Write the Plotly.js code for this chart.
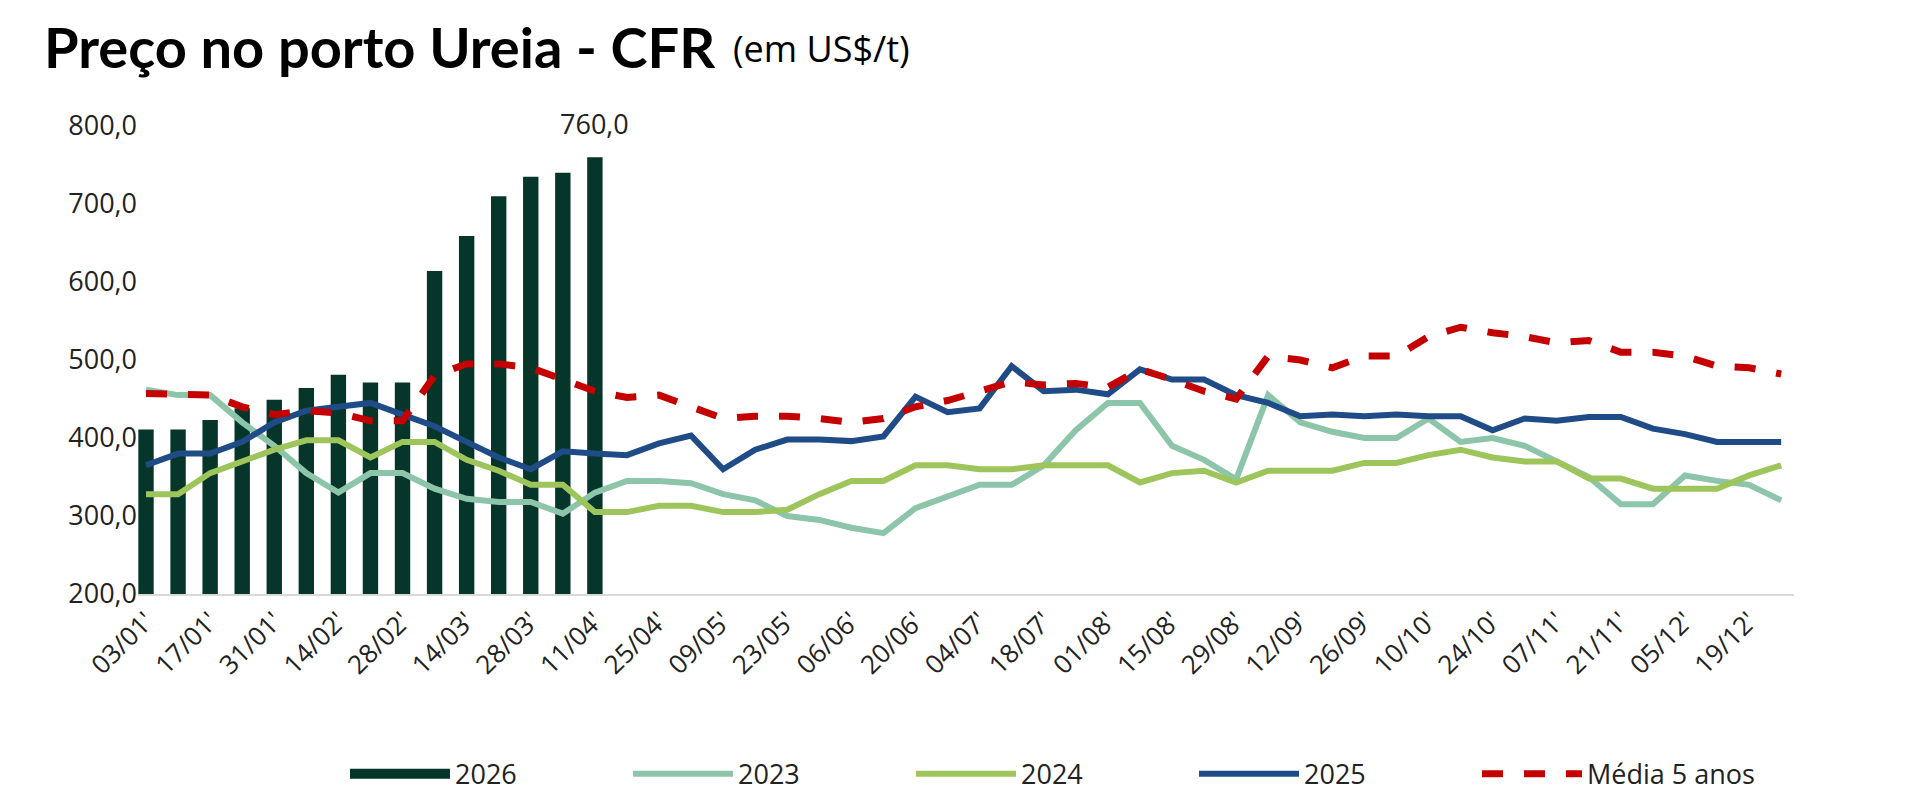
<!DOCTYPE html>
<html>
<head>
<meta charset="utf-8">
<script src="https://cdn.plot.ly/plotly-3.0.1.min.js"></script>
<style>body{margin:0;background:#fff}#chart_area{width:1920px;height:811px}</style>
</head>
<body>
<div id="chart_area"></div>
<script>
var weeks = ["03/01'","10/01'","17/01'","24/01'","31/01'","07/02'","14/02'","21/02'","28/02'","07/03'","14/03'","21/03'","28/03'","04/04'","11/04'","18/04'","25/04'","02/05'","09/05'","16/05'","23/05'","30/05'","06/06'","13/06'","20/06'","27/06'","04/07'","11/07'","18/07'","25/07'","01/08'","08/08'","15/08'","22/08'","29/08'","05/09'","12/09'","19/09'","26/09'","03/10'","10/10'","17/10'","24/10'","31/10'","07/11'","14/11'","21/11'","28/11'","05/12'","12/12'","19/12'","26/12'"];
var y2026 = [411,411,423,438,449,464,481,471,471,614,659,710,735,740,760];
var y2023 = [462,455,455,420,390,355,330,355,355,335,322,318,318,303,330,345,345,342,328,320,300,295,285,278,310,325,340,340,365,410,445,445,390,372,347,455,420,408,400,400,425,395,400,390,370,350,315,315,352,345,340,320];
var y2024 = [328,328,355,370,385,397,397,375,395,395,372,358,340,340,305,305,313,313,305,305,308,328,345,345,365,365,360,360,365,365,365,343,355,358,343,358,358,358,368,368,378,385,375,370,370,348,348,335,335,335,352,365];
var y2025 = [365,380,380,395,420,435,440,445,430,415,395,375,360,383,380,378,393,403,360,385,398,398,396,402,453,433,438,492,460,462,456,488,475,475,455,445,428,430,428,430,428,428,410,425,422,427,427,412,405,395,395,395];
var media = [457,455,455,440,430,435,432,422,422,480,495,495,490,475,460,452,455,440,425,428,428,425,420,425,440,448,460,472,468,470,465,488,475,460,450,505,500,490,505,505,530,542,535,530,522,525,510,510,505,492,490,482];

var tickWeeks = weeks.filter(function (w, i) { return i % 2 === 0; });
var ff = 'Open Sans, sans-serif';
var last = y2026.length - 1;

var data = [
  { name: '2026', type: 'bar', x: weeks.slice(0, y2026.length), y: y2026,
    marker: { color: '#06362a' }, width: 0.48, showlegend: false },
  // legend swatch for the bars
  { name: '2026', type: 'scatter', mode: 'lines', x: [null], y: [null], line: { color: '#06362a', width: 18 } },
  { name: '2023', type: 'scatter', mode: 'lines', x: weeks, y: y2023, line: { color: '#8cc5a9', width: 6 } },
  { name: '2024', type: 'scatter', mode: 'lines', x: weeks, y: y2024, line: { color: '#9dc55c', width: 6 } },
  { name: '2025', type: 'scatter', mode: 'lines', x: weeks, y: y2025, line: { color: '#1f4b87', width: 6 } },
  { name: 'Média 5 anos', type: 'scatter', mode: 'lines', x: weeks, y: media, line: { color: '#c40000', width: 7, dash: 'dash' } }
];

var layout = {
  width: 1920, height: 811,
  margin: { l: 138, r: 126, t: 126, b: 206 },
  separators: ',.',
  paper_bgcolor: '#fff', plot_bgcolor: 'rgba(0,0,0,0)',
  font: { family: ff, color: '#222' },
  showlegend: true,
  legend: { orientation: 'h', x: 0.125, xanchor: 'left', y: -0.385, yanchor: 'middle',
    font: { size: 27, family: ff }, traceorder: 'normal', entrywidth: 168, itemwidth: 100 },
  xaxis: { type: 'category', range: [-0.25, 51.4], tickvals: tickWeeks, ticktext: tickWeeks,
    tickangle: -45, tickfont: { size: 26, family: ff }, showgrid: false, zeroline: false,
    showline: true, linecolor: '#d9d9d9', linewidth: 1.5 },
  yaxis: { range: [200, 800], dtick: 100, tickformat: '.1f', tickfont: { size: 27, family: ff },
    showgrid: false, zeroline: false, showline: false, ticks: '', ticklen: 0 },
  annotations: [
    { xref: 'paper', yref: 'paper', x: -0.058, y: 1.17, xanchor: 'left', yanchor: 'middle', showarrow: false,
      text: '<b>Preço no porto Ureia - CFR</b>',
      font: { size: 56, family: 'Lato, sans-serif', color: '#000', weight: 900 } },
    { xref: 'paper', yref: 'paper', x: 0.358, y: 1.165, xanchor: 'left', yanchor: 'middle', showarrow: false,
      text: '(em US$/t)', font: { size: 36, family: ff, color: '#000' } },
    { x: weeks[last], y: y2026[last], yshift: 34, showarrow: false,
      text: y2026[last].toFixed(1).replace('.', ','), font: { size: 27, family: ff, color: '#222' } }
  ]
};

Plotly.newPlot('chart_area', data, layout, { staticPlot: true });
</script>
</body>
</html>
